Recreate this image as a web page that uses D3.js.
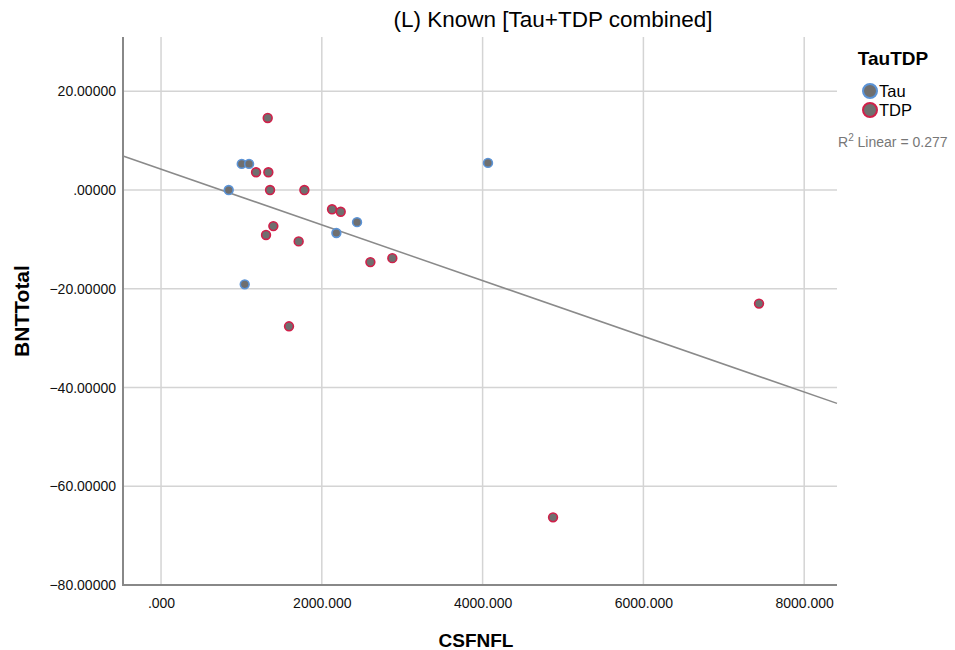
<!DOCTYPE html>
<html>
<head>
<meta charset="utf-8">
<script src="https://cdn.jsdelivr.net/npm/d3@7"></script>
<style>
  body { margin: 0; background: #fff; }
  text { font-family: "Liberation Sans", Arial, sans-serif; }
</style>
</head>
<body>
<svg id="chart" width="955" height="650"></svg>
<script>
// data
var groups = ["Tau", "TDP"];
var csfnfl = [842, 1004, 1095, 1041, 2181, 2438, 4067,
              1327, 1182, 1335, 1356, 1783, 2127, 2235, 1397, 1306, 1712, 2604, 2877, 1592, 4876, 7438];
var bntTotal = [0, 5.3, 5.3, -19.1, -8.7, -6.5, 5.5,
                14.6, 3.6, 3.6, 0, 0, -3.9, -4.4, -7.3, -9.1, -10.4, -14.6, -13.8, -27.6, -66.3, -23.0];
var group = ["Tau", "Tau", "Tau", "Tau", "Tau", "Tau", "Tau",
             "TDP", "TDP", "TDP", "TDP", "TDP", "TDP", "TDP", "TDP", "TDP", "TDP", "TDP", "TDP", "TDP", "TDP", "TDP"];
var xTicks = [0, 2000, 4000, 6000, 8000];
var yTicks = [20, 0, -20, -40, -60, -80];
var rSquared = "0.277";

var strokeColors = {"Tau": "#5b93d6", "TDP": "#d0204a"};

var svg = d3.select("#chart");
var plotLeft = 123, plotRight = 837, plotTop = 37, plotBottom = 585;

var x = d3.scaleLinear().domain([-473, 8408]).range([plotLeft, plotRight]);
var y = d3.scaleLinear().domain([-80, 31]).range([plotBottom, plotTop]);

// grid lines
svg.append("g").selectAll("line")
    .data(xTicks)
    .enter().append("line")
    .attr("x1", function(d) { return x(d); })
    .attr("x2", function(d) { return x(d); })
    .attr("y1", plotTop)
    .attr("y2", plotBottom)
    .style("stroke", "#d4d4d4")
    .style("stroke-width", 1.5);

svg.append("g").selectAll("line")
    .data(yTicks)
    .enter().append("line")
    .attr("x1", plotLeft)
    .attr("x2", plotRight)
    .attr("y1", function(d) { return y(d); })
    .attr("y2", function(d) { return y(d); })
    .style("stroke", "#d4d4d4")
    .style("stroke-width", 1.5);

// axes
var xAxis = d3.axisBottom(x).tickValues(xTicks).tickSize(0).tickPadding(13)
    .tickFormat(function(d) { return d === 0 ? ".000" : d3.format(".3f")(d); });
var gx = svg.append("g").attr("transform", "translate(0," + plotBottom + ")").call(xAxis);
gx.select(".domain").remove();
gx.selectAll("text").attr("font-size", 14).attr("fill", "#111")
    .style("font-family", "'Liberation Sans', Arial, sans-serif");

var yAxis = d3.axisLeft(y).tickValues(yTicks).tickSize(0).tickPadding(7)
    .tickFormat(function(d) { return d === 0 ? ".00000" : d3.format(".5f")(d); });
var gy = svg.append("g").attr("transform", "translate(" + plotLeft + ",0)").call(yAxis);
gy.select(".domain").remove();
gy.selectAll("text").attr("font-size", 14).attr("fill", "#111")
    .style("font-family", "'Liberation Sans', Arial, sans-serif");

svg.append("line")
    .attr("x1", plotLeft).attr("x2", plotLeft).attr("y1", plotTop).attr("y2", plotBottom + 1)
    .style("stroke", "#888").style("stroke-width", 2);
svg.append("line")
    .attr("x1", plotLeft).attr("x2", plotRight).attr("y1", plotBottom).attr("y2", plotBottom)
    .style("stroke", "#888").style("stroke-width", 2);

// fit line (least squares over all points)
var mx = d3.mean(csfnfl), my = d3.mean(bntTotal);
var sxy = 0, sxx = 0;
for (var i = 0; i < csfnfl.length; i++) {
    sxy += (csfnfl[i] - mx) * (bntTotal[i] - my);
    sxx += (csfnfl[i] - mx) * (csfnfl[i] - mx);
}
var slope = sxy / sxx, intercept = my - slope * mx;
var x0 = x.domain()[0], x1 = x.domain()[1];
svg.append("line")
    .attr("x1", x(x0)).attr("y1", y(intercept + slope * x0))
    .attr("x2", x(x1)).attr("y2", y(intercept + slope * x1))
    .style("stroke", "#8a8a8a").style("stroke-width", 1.5);

// points
svg.append("g").selectAll("circle")
    .data(csfnfl)
    .enter().append("circle")
    .attr("cx", function(d) { return x(d); })
    .attr("cy", function(d, i) { return y(bntTotal[i]); })
    .attr("r", 4.4)
    .attr("fill", "#6f6f6f")
    .attr("stroke", function(d, i) { return strokeColors[group[i]]; })
    .attr("stroke-width", 1.6);

// titles
svg.append("text")
    .attr("x", 553).attr("y", 27)
    .attr("text-anchor", "middle")
    .attr("font-size", 22.5)
    .attr("fill", "#000")
    .text("(L) Known [Tau+TDP combined]");

svg.append("text")
    .attr("x", 476).attr("y", 647)
    .attr("text-anchor", "middle")
    .attr("font-size", 19).attr("font-weight", "bold")
    .text("CSFNFL");

svg.append("text")
    .attr("transform", "translate(29,311) rotate(-90)")
    .attr("text-anchor", "middle")
    .attr("font-size", 21).attr("font-weight", "bold")
    .text("BNTTotal");

// legend
var legend = svg.append("g");
legend.append("text")
    .attr("x", 893).attr("y", 65)
    .attr("text-anchor", "middle")
    .attr("font-size", 19).attr("font-weight", "bold")
    .text("TauTDP");

var items = legend.selectAll("g.item")
    .data(groups)
    .enter().append("g")
    .attr("class", "item")
    .attr("transform", function(d, i) { return "translate(870," + (91 + i * 19) + ")"; });
items.append("circle")
    .attr("r", 7)
    .attr("fill", "#6f6f6f")
    .attr("stroke", function(d) { return strokeColors[d]; })
    .attr("stroke-width", 2);
items.append("text")
    .attr("x", 9).attr("y", 6)
    .attr("font-size", 16.5)
    .text(function(d) { return d; });

var r2 = legend.append("text")
    .attr("x", 838).attr("y", 147)
    .attr("font-size", 14)
    .attr("fill", "#777");
r2.append("tspan").text("R");
r2.append("tspan").attr("dy", -6).attr("font-size", 10).text("2");
r2.append("tspan").attr("dy", 6).text(" Linear = " + rSquared);
</script>
</body>
</html>
